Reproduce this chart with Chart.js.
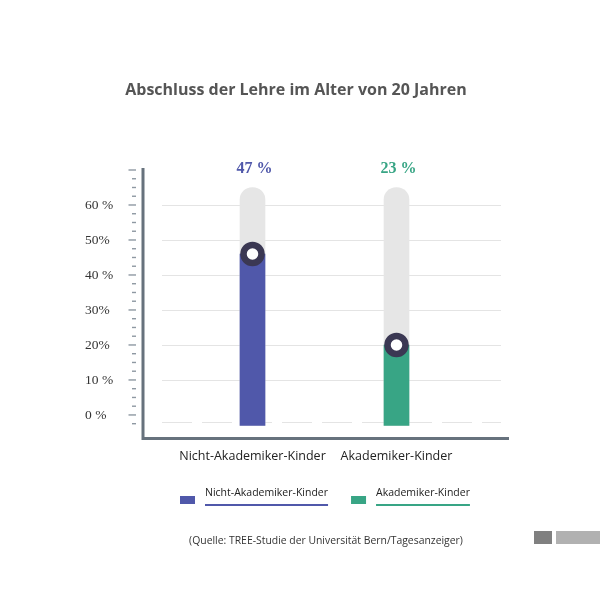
<!DOCTYPE html>
<html>
<head>
<meta charset="utf-8">
<title>Abschluss der Lehre</title>
<script src="https://cdn.jsdelivr.net/npm/chart.js@4"></script>
<style>
  html, body { margin: 0; padding: 0; background: #fff; }
  #wrap { width: 600px; height: 600px; }
</style>
</head>
<body>
<div id="wrap"><canvas id="chart" width="600" height="600"></canvas></div>
<script>
const TITLE = "Abschluss der Lehre im Alter von 20 Jahren";
const SOURCE = "(Quelle: TREE-Studie der Universität Bern/Tagesanzeiger)";

const categories = ["Nicht-Akademiker-Kinder", "Akademiker-Kinder"];
const barValues = [46, 20];          // bar heights as drawn
const valueLabels = ["47 %", "23 %"]; // printed values above the bars
const trackValues = [65, 65];        // grey background tubes
const yTickValues = [0, 10, 20, 30, 40, 50, 60];
const yTickTexts = ["0 %", "10 %", "20%", "30%", "40 %", "50%", "60 %"];

const barColors = ["#5058aa", "#38a585"];
const BAR_BASE = -3;
const SANS = "'Open Sans', sans-serif";
const SERIF = "'Liberation Serif', serif";

const decor = {
  id: "decor",
  beforeDatasetsDraw(chart) {
    const { ctx, chartArea } = chart;
    const y = chart.scales.y;
    const x0 = chartArea.left - 18.5;
    const x1 = chartArea.right + 32.5;
    ctx.save();
    ctx.strokeStyle = "#e4e4e4";
    ctx.lineWidth = 1;
    for (const v of yTickValues) {
      if (v === 0) continue;
      const py = Math.round(y.getPixelForValue(v)) + 0.5;
      ctx.beginPath();
      ctx.moveTo(x0, py);
      ctx.lineTo(x1, py);
      ctx.stroke();
    }
    // dashed base line
    const by = Math.round(y.getPixelForValue(-2)) + 0.5;
    ctx.setLineDash([30, 10]);
    ctx.beginPath();
    ctx.moveTo(x0, by);
    ctx.lineTo(x1, by);
    ctx.stroke();
    ctx.restore();
  },
  afterDatasetsDraw(chart) {
    const { ctx } = chart;
    const tracks = chart.getDatasetMeta(2).data;
    ctx.save();
    ctx.font = "bold 16px " + SERIF;
    ctx.textAlign = "center";
    ctx.textBaseline = "middle";
    tracks.forEach((el, i) => {
      ctx.fillStyle = barColors[i];
      ctx.fillText(valueLabels[i], el.x + 2, el.y - 19);
    });
    ctx.restore();
  },
  afterDraw(chart) {
    const { ctx, chartArea } = chart;
    const y = chart.scales.y;
    const axisX = chartArea.left - 37.5;
    ctx.save();

    // axis lines
    ctx.strokeStyle = "#67727d";
    ctx.lineWidth = 3;
    ctx.beginPath();
    ctx.moveTo(axisX, chartArea.top - 2);
    ctx.lineTo(axisX, chartArea.bottom + 1.5);
    ctx.lineTo(chartArea.right + 40.5, chartArea.bottom + 1.5);
    ctx.stroke();

    // small ruler ticks
    ctx.strokeStyle = "#8e98a2";
    ctx.lineWidth = 1.4;
    for (let i = -1; i <= 28; i++) {
      const v = i * 2.5;
      const py = y.getPixelForValue(v);
      const major = v % 10 === 0;
      ctx.beginPath();
      ctx.moveTo(axisX - (major ? 14.5 : 11), py);
      ctx.lineTo(axisX - 7, py);
      ctx.stroke();
    }

    // title
    ctx.fillStyle = "#555";
    ctx.font = "bold 16px " + SANS;
    ctx.textAlign = "center";
    ctx.textBaseline = "middle";
    ctx.fillText(TITLE, 296, 90);

    // legend
    ctx.font = "10.5px " + SANS;
    ctx.textAlign = "left";
    let lx = 180;
    categories.forEach((c, i) => {
      ctx.fillStyle = barColors[i];
      ctx.fillRect(lx, 496, 15, 8);
      const tx = lx + 25;
      ctx.fillStyle = "#222";
      ctx.fillText(c, tx, 493);
      const w = ctx.measureText(c).width;
      ctx.strokeStyle = barColors[i];
      ctx.lineWidth = 2;
      ctx.beginPath();
      ctx.moveTo(tx, 505);
      ctx.lineTo(tx + w, 505);
      ctx.stroke();
      lx = tx + w + 23;
    });

    // source
    ctx.fillStyle = "#333";
    ctx.font = "10.4px " + SANS;
    ctx.textAlign = "center";
    ctx.fillText(SOURCE, 326, 541);

    // page marks bottom right
    ctx.fillStyle = "#808080";
    ctx.fillRect(534, 531, 18, 13);
    ctx.fillStyle = "#b1b1b1";
    ctx.fillRect(556, 531, 44, 13);

    ctx.restore();
  }
};

new Chart(document.getElementById("chart"), {
  type: "bar",
  data: {
    labels: categories,
    datasets: [
      {
        type: "line",
        data: barValues,
        showLine: false,
        pointRadius: 9,
        pointHoverRadius: 9,
        pointBorderWidth: 6.5,
        pointBackgroundColor: "#ffffff",
        pointBorderColor: "#3b3853",
      },
      {
        data: barValues,
        base: BAR_BASE,
        backgroundColor: barColors,
        barThickness: 25,
        grouped: false,
        borderWidth: 0,
      },
      {
        data: trackValues,
        base: BAR_BASE,
        backgroundColor: "#e6e6e6",
        barThickness: 25,
        grouped: false,
        borderWidth: 0,
        borderRadius: 13,
        borderSkipped: "start",
      },
    ],
  },
  options: {
    responsive: false,
    animation: false,
    layout: { padding: { top: 170, left: 85, right: 131.5, bottom: 0 } },
    plugins: {
      legend: { display: false },
      tooltip: { enabled: false },
    },
    scales: {
      x: {
        afterFit: (s) => { s.height = 163; },
        grid: { display: false, drawTicks: false },
        border: { display: false },
        ticks: {
          padding: 12,
          autoSkip: false,
          maxRotation: 0,
          minRotation: 0,
          color: "#222",
          font: { family: SANS, size: 12.5 },
        },
      },
      y: {
        min: -6.3,
        max: 70,
        afterFit: (s) => { s.width = 95.5; },
        afterBuildTicks: (s) => { s.ticks = yTickValues.map((v) => ({ value: v })); },
        grid: { display: false, drawTicks: false },
        border: { display: false },
        ticks: {
          crossAlign: "far",
          padding: 0,
          color: "#333",
          font: { family: SERIF, size: 13.5 },
          callback: (v) => yTickTexts[yTickValues.indexOf(v)],
        },
      },
    },
  },
  plugins: [decor],
});
</script>
</body>
</html>
